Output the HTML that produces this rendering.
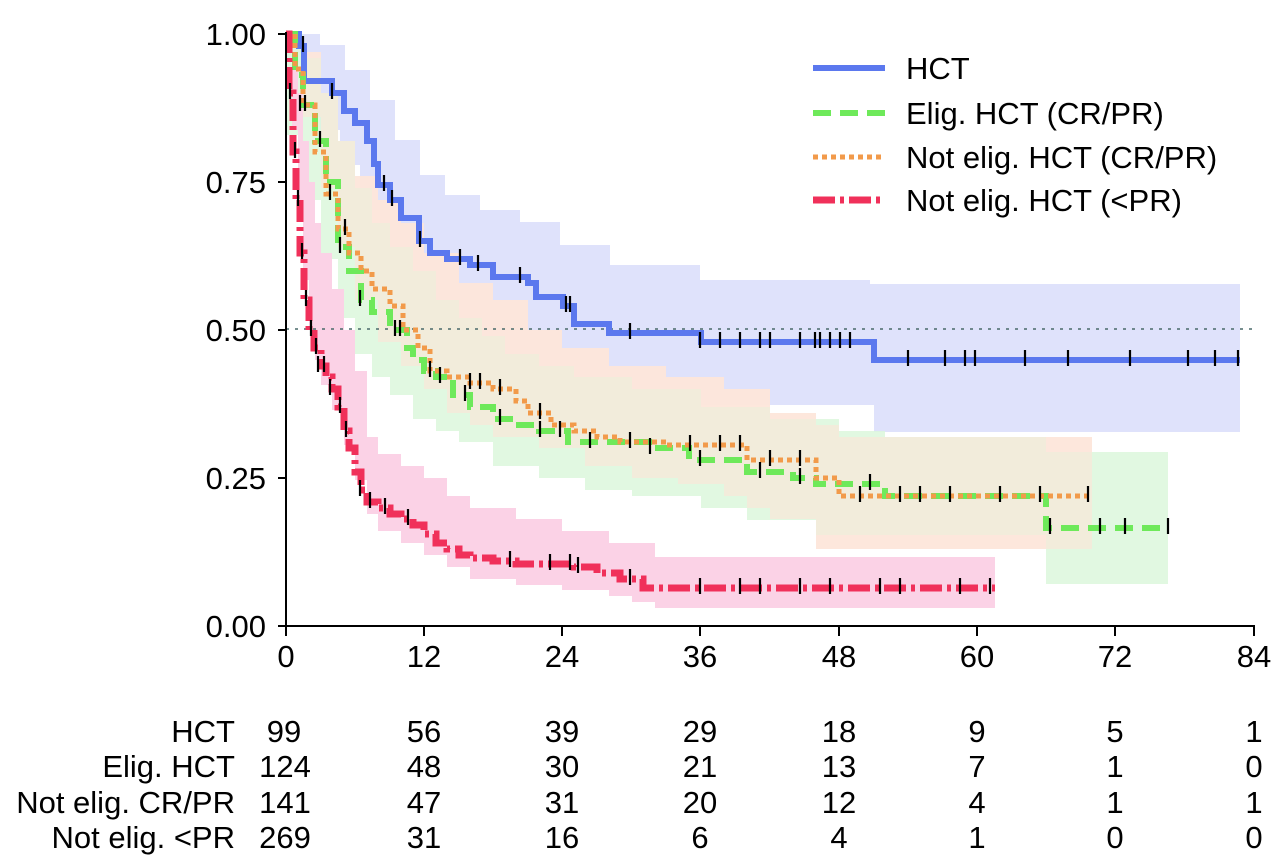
<!DOCTYPE html>
<html><head><meta charset="utf-8"><style>
html,body{margin:0;padding:0;background:#fff;}
svg{display:block;font-family:"Liberation Sans",Arial,sans-serif;}
</style></head><body>
<svg width="1280" height="867" viewBox="0 0 1280 867" xmlns="http://www.w3.org/2000/svg">
<!-- bands -->
<path fill="#dfe2fb" d="M286,34 H320 V45 H345 V70 H370 V100 H395 V140 H420 V175 H445 V195 H480 V210 H520 V222 H560 V245 H610 V265 H700 V280 H870 V284 H1240 V432 H874 V405 H700 V395 H600 V382 H560 V372 H520 V360 H480 V336 H450 V312 H420 V285 H400 V250 H380 V210 H360 V165 H340 V130 H320 V100 H300 V60 H286 Z"/>
<path fill="#fde6da" fill-opacity="0.9" d="M286,34 H303 V52 H321 V93 H338 V141 H355 V176 H378 V200 H401 V223 H424 V253 H459 V283 H493 V300 H528 V330 H562 V348 H609 V366 H666 V377 H724 V389 H770 V413 H816 V425 H839 V437 H1092 V549 H816 V519 H770 V508 H747 V496 H724 V484 H678 V478 H632 V466 H585 V448 H539 V437 H493 V425 H470 V413 H447 V389 H424 V366 H401 V342 H378 V300 H355 V247 H338 V188 H321 V117 H303 V34 H286 Z"/>
<path fill="#dcf7dc" fill-opacity="0.85" d="M286,34 H303 V58 H321 V93 H338 V141 H355 V188 H372 V223 H390 V247 H413 V271 H436 V300 H459 V318 H482 V336 H505 V354 H539 V366 H574 V377 H632 V389 H701 V407 H770 V419 H839 V431 H885 V437 H1046 V452 H1168 V584 H1046 V535 H816 V520 H747 V508 H701 V496 H632 V490 H585 V478 H539 V466 H493 V442 H459 V431 H436 V419 H413 V395 H390 V377 H372 V354 H355 V318 H338 V259 H321 V200 H303 V135 H286 Z"/>
<path fill="#fde6da" fill-opacity="0.6" d="M286,34 H303 V52 H321 V93 H338 V141 H355 V176 H378 V200 H401 V223 H424 V253 H459 V283 H493 V300 H528 V330 H562 V348 H609 V366 H666 V377 H724 V389 H770 V413 H816 V425 H839 V437 H1092 V549 H816 V519 H770 V508 H747 V496 H724 V484 H678 V478 H632 V466 H585 V448 H539 V437 H493 V425 H470 V413 H447 V389 H424 V366 H401 V342 H378 V300 H355 V247 H338 V188 H321 V117 H303 V34 H286 Z"/>
<path fill="#fbd2e6" d="M286,34 H292 V58 H298 V93 H303 V141 H309 V182 H315 V223 H321 V253 H332 V289 H344 V330 H355 V371 H367 V437 H378 V454 H401 V466 H424 V478 H447 V496 H470 V508 H516 V519 H562 V531 H609 V543 H655 V557 H995 V608 H655 V602 H632 V596 H609 V590 H562 V585 H516 V579 H470 V567 H447 V555 H424 V543 H401 V531 H378 V514 H367 V480 H355 V445 H344 V410 H332 V385 H321 V360 H315 V330 H309 V280 H303 V220 H298 V130 H292 V34 H286 Z"/>
<line x1="286" y1="329" x2="1256" y2="329" stroke="#4a6a6a" stroke-width="1.5" stroke-dasharray="3,6"/>
<!-- curves -->
<path fill="none" stroke="#5b78ee" stroke-width="6" d="M286,34 H299 V46 H304 V81 H332 V93 H344 V111 H355 V123 H367 V141 H374 V164 H378 V185 H390 V200 H401 V218 H419 V241 H430 V253 H447 V259 H470 V265 H493 V277 H528 V283 H536 V297 H563 V306 H574 V324 H609 V333 H701 V342 H874 V360 H1240"/>
<path fill="none" stroke="#6ee95a" stroke-width="6" stroke-dasharray="18,9" d="M286,34 H295 V75 H303 V105 H315 V141 H326 V182 H338 V247 H349 V271 H361 V300 H372 V312 H390 V330 H407 V348 H413 V360 H424 V371 H436 V377 H453 V395 H470 V407 H493 V419 H516 V425 H539 V431 H568 V442 H655 V448 H689 V460 H747 V472 H793 V478 H816 V484 H885 V496 H1046 V528 H1168"/>
<path fill="none" stroke="#f29a4a" stroke-width="5" stroke-dasharray="5,4" d="M286,34 H295 V69 H303 V105 H315 V152 H326 V194 H338 V229 H349 V253 H361 V271 H372 V289 H390 V306 H403 V330 H418 V348 H430 V371 H447 V377 H470 V383 H493 V389 H516 V401 H528 V413 H551 V425 H574 V431 H597 V437 H620 V442 H666 V445 H747 V460 H816 V478 H839 V496 H1090"/>
<path fill="none" stroke="#f0305a" stroke-width="7" stroke-dasharray="22,5,4,5" d="M286,34 H289 V93 H293 V152 H296 V200 H300 V253 H304 V300 H309 V330 H314 V348 H321 V366 H326 V377 H332 V389 H338 V407 H344 V431 H349 V448 H355 V472 H361 V490 H367 V502 H378 V508 H390 V514 H401 V519 H413 V525 H424 V534 H436 V543 H447 V549 H459 V555 H470 V558 H493 V561 H516 V564 H574 V567 H597 V573 H620 V579 H643 V588 H995"/>
<!-- censor ticks -->
<path fill="none" stroke="#000" stroke-width="2.2" d="
M303,36v16 M332,83v16 M384,175v16 M392,190v16 M420,231v16 M460,249v16 M478,255v16 M520,267v16 M566,296v16 M570,296v16 M630,323v16 M700,332v16 M720,332v16 M740,332v16 M760,332v16 M770,332v16 M800,332v16 M815,332v16 M820,332v16 M830,332v16 M840,332v16 M850,332v16 M908,350v16 M945,350v16 M965,350v16 M975,350v16 M1025,350v16 M1068,350v16 M1130,350v16 M1188,350v16 M1215,350v16 M1238,350v16
M300,95v16 M320,131v16 M340,237v16 M360,290v16 M395,320v16 M430,361v16 M465,385v16 M500,409v16 M540,421v16 M560,421v16 M590,432v16 M650,438v16 M700,450v16 M760,462v16 M800,468v16 M870,474v16 M920,486v16 M1000,486v16 M1050,518v16 M1100,518v16 M1125,518v16 M1168,518v16
M305,95v16 M330,184v16 M345,219v16 M400,320v16 M440,367v16 M470,373v16 M480,373v16 M500,379v16 M540,403v16 M630,432v16 M690,435v16 M720,435v16 M740,435v16 M770,450v16 M800,450v16 M860,486v16 M900,486v16 M950,486v16 M1000,486v16 M1040,486v16 M1088,486v16
M290,83v16 M295,142v16 M298,190v16 M302,243v16 M306,290v16 M311,320v16 M316,338v16 M318,356v16 M324,356v16 M330,379v16 M340,397v16 M346,421v16 M360,480v16 M370,492v16 M385,498v16 M408,509v16 M510,551v16 M550,554v16 M570,554v16 M578,557v16 M630,569v16 M700,578v16 M740,578v16 M760,578v16 M800,578v16 M830,578v16 M880,578v16 M900,578v16 M960,578v16 M990,578v16"/>
<!-- axes -->
<g stroke="#000" stroke-width="2" fill="none">
<line x1="286" y1="32" x2="286" y2="627"/>
<line x1="285" y1="626" x2="1255" y2="626"/>
<line x1="278" y1="34" x2="286" y2="34"/><line x1="278" y1="182" x2="286" y2="182"/>
<line x1="278" y1="330" x2="286" y2="330"/><line x1="278" y1="478" x2="286" y2="478"/>
<line x1="278" y1="626" x2="286" y2="626"/>
<line x1="286" y1="626" x2="286" y2="636"/><line x1="424" y1="626" x2="424" y2="636"/>
<line x1="562" y1="626" x2="562" y2="636"/><line x1="700" y1="626" x2="700" y2="636"/>
<line x1="839" y1="626" x2="839" y2="636"/><line x1="977" y1="626" x2="977" y2="636"/>
<line x1="1115" y1="626" x2="1115" y2="636"/><line x1="1254" y1="626" x2="1254" y2="636"/>
</g>
<g font-size="31" text-anchor="end" fill="#000">
<text x="266" y="45">1.00</text><text x="266" y="193">0.75</text>
<text x="266" y="341">0.50</text><text x="266" y="489">0.25</text><text x="266" y="637">0.00</text>
</g>
<g font-size="31" text-anchor="middle" fill="#000">
<text x="286" y="667">0</text><text x="424" y="667">12</text><text x="562" y="667">24</text>
<text x="700" y="667">36</text><text x="839" y="667">48</text><text x="977" y="667">60</text>
<text x="1115" y="667">72</text><text x="1254" y="667">84</text>
</g>
<!-- legend -->
<line x1="813" y1="68" x2="885" y2="68" stroke="#5b78ee" stroke-width="6"/>
<line x1="813" y1="113" x2="885" y2="113" stroke="#6ee95a" stroke-width="6" stroke-dasharray="18,9"/>
<line x1="813" y1="157" x2="885" y2="157" stroke="#f29a4a" stroke-width="5" stroke-dasharray="5,4"/>
<line x1="813" y1="200" x2="885" y2="200" stroke="#f0305a" stroke-width="7" stroke-dasharray="22,5,4,5"/>
<g font-size="31" fill="#000">
<text x="906" y="79">HCT</text><text x="906" y="124">Elig. HCT (CR/PR)</text>
<text x="906" y="168">Not elig. HCT (CR/PR)</text><text x="906" y="211">Not elig. HCT (&lt;PR)</text>
</g>
<!-- risk table -->
<g font-size="31" fill="#000" text-anchor="end">
<text x="235" y="742">HCT</text><text x="235" y="777">Elig. HCT</text>
<text x="235" y="813">Not elig. CR/PR</text><text x="235" y="848">Not elig. &lt;PR</text>
</g>
<g font-size="31" fill="#000" text-anchor="middle">
<text x="284" y="742">99</text><text x="424" y="742">56</text><text x="562" y="742">39</text><text x="700" y="742">29</text><text x="839" y="742">18</text><text x="977" y="742">9</text><text x="1115" y="742">5</text><text x="1254" y="742">1</text>
<text x="285" y="777">124</text><text x="424" y="777">48</text><text x="562" y="777">30</text><text x="700" y="777">21</text><text x="839" y="777">13</text><text x="977" y="777">7</text><text x="1115" y="777">1</text><text x="1254" y="777">0</text>
<text x="285" y="813">141</text><text x="424" y="813">47</text><text x="562" y="813">31</text><text x="700" y="813">20</text><text x="839" y="813">12</text><text x="977" y="813">4</text><text x="1115" y="813">1</text><text x="1254" y="813">1</text>
<text x="285" y="848">269</text><text x="424" y="848">31</text><text x="562" y="848">16</text><text x="700" y="848">6</text><text x="839" y="848">4</text><text x="977" y="848">1</text><text x="1115" y="848">0</text><text x="1254" y="848">0</text>
</g>
</svg>
</body></html>
